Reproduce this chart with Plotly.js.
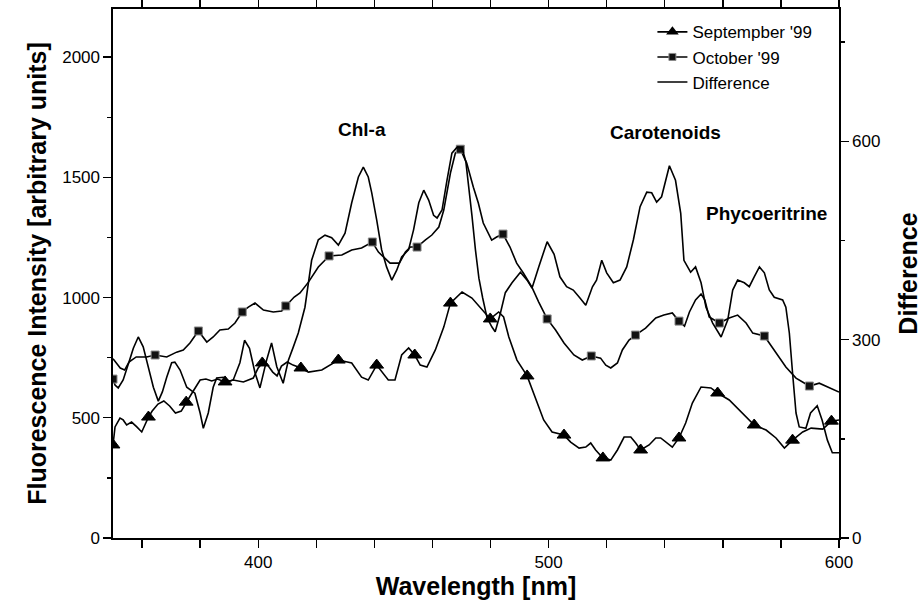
<!DOCTYPE html>
<html>
<head>
<meta charset="utf-8">
<script src="https://cdn.plot.ly/plotly-3.0.1.min.js"></script>
<style>html,body{margin:0;padding:0;background:#fff;}#chart{width:924px;height:602px;}</style>
</head>
<body>
<div id="chart"></div>
<script>
// September '99 (left axis, arbitrary units)
var sepNm = [350,350.7,352.4,353.5,354.7,356.4,358.2,359.9,362.2,363.5,365.5,367.5,369.5,371.5,373.5,375.2,377,378.5,380,382,384,386,388.6,391.4,394.9,398.3,400,401.4,403,405,406.5,408,410,412,414.7,417.3,421.9,427.6,432.2,435.6,437.9,440.8,444.8,447.1,449.4,451.8,453.9,455.8,458.1,461,463.9,466.2,470.2,473.6,477.1,479.9,482.8,484.5,486.3,489.1,492.6,495.4,498.3,501.2,502.4,505.3,507.6,510.5,512.8,514.5,516.2,518.7,521.4,523.7,526,528.3,530,531.7,534.6,536.9,538.6,540.9,542.6,544.9,547.2,549.5,552.5,555.9,558.2,562.2,566.8,570.8,574.9,578.3,581.2,584,587.5,590.4,594.4,597.4,600];
var sepVal = [387,462,499,491,470,482,462,441,503,528,557,570,549,520,528,565,599,628,657,661,653,661,649,657,649,665,707,728,723,690,674,715,732,719,707,690,699,740,728,669,657,719,657,657,761,790,761,719,711,782,877,977,1023,998,948,911,940,919,836,740,674,586,491,441,437,428,399,374,378,395,366,333,324,366,420,420,395,366,387,416,416,395,378,416,478,561,628,624,603,574,520,470,449,416,374,407,441,457,453,486,491];
var sepMarkNm = [350,362.2,375.2,388.6,401.4,414.7,427.6,440.8,453.9,466.2,479.9,492.6,505.3,518.7,531.7,544.9,558.2,570.8,584,597.4];

// October '99 (left axis)
var octNm = [350,350.7,351.8,353.5,355.5,358,361.6,364.5,368.5,371.9,374.2,376.5,379.4,382.3,384.5,386.8,389.7,392,394.5,396.6,398.9,401.8,405.2,408.1,409.5,412.4,414.4,417.3,420.7,424.4,428.8,432.2,435.6,439.3,441.4,443.1,445.4,448.6,450.7,452.4,454.7,457.5,459.8,462.2,463.9,466.2,467.9,469.6,471.8,474.1,475.8,477.5,480.4,482.1,484.3,486.7,489,491.3,494.2,496.6,499.5,502.4,505.3,508.7,511.6,514.7,517.9,519.7,521.4,523.7,525.4,527.7,529.9,533.4,536.9,539.7,542.6,544.9,546.8,548.5,550.6,552.5,553.8,555.3,558.8,562.2,565.1,568,570.3,574.3,578.3,581.7,585.2,589.8,593.2,596.7,600];
var octVal = [661,636,624,657,732,753,753,761,753,773,782,811,861,815,836,865,869,894,940,960,977,948,940,944,965,1002,1019,1064,1127,1173,1177,1198,1206,1231,1189,1168,1143,1143,1189,1210,1210,1239,1260,1293,1364,1518,1601,1617,1559,1459,1393,1310,1239,1252,1264,1210,1143,1102,1044,981,911,865,811,761,740,757,748,719,707,728,782,823,844,873,915,927,936,902,881,940,990,1015,990,919,894,915,927,894,852,840,769,711,665,632,644,624,607];
var octMarkNm = [350,364.5,379.4,394.5,409.5,424.4,439.3,454.7,469.6,484.3,499.5,514.7,529.9,544.9,558.8,574.3,589.8];

// Difference (right axis)
var diffNm = [350,351,352.5,354,355.5,357,358.7,360.4,362.2,363.9,365.6,367,368.5,370.2,371.3,373.1,375.4,378.2,380,381.1,382.8,384.5,385.7,388,390,391.4,393.7,395.3,397,398.9,400.6,402.9,404.6,406.4,408.6,410.4,412.1,413.8,416.1,417.3,418.4,420.7,423,425.3,427.6,429.9,432.2,434.5,436.2,437.9,439.1,440.8,442.5,444.2,446,447.7,449.4,451.8,453.5,455.3,457,458.7,460.4,461.6,463.3,465,466.7,468.5,470.2,471.5,472.5,473.6,474.8,476,477.3,478.8,480.5,481.6,483.4,485.1,487.4,490.3,492.6,494.3,496.6,499.5,501.9,503.9,506.2,508.5,510.8,512.8,515.1,516.5,518.3,520,522.3,524.6,526.9,529.2,531.5,533.8,535.5,537.2,538.9,541.6,543.7,545.5,546.6,547.8,548.9,550.6,552.5,554.2,556.5,559.4,561.7,563.4,565.1,567.4,569.1,570.8,572.6,574.3,576,577.7,580.6,581.7,582.9,584,585.2,586.3,588.6,590.2,592.5,594.2,596,597.7,600];
var diffVal = [271,265,257,254,266,287,304,289,259,228,207,221,243,265,266,254,228,219,189,166,189,228,242,243,237,239,265,299,287,250,227,269,295,259,234,269,289,310,349,390,420,451,458,454,443,461,507,546,561,546,522,481,436,410,390,405,425,436,466,507,526,511,488,484,496,541,582,591,590,569,534,488,436,393,363,333,319,312,340,371,386,402,390,378,410,448,429,395,380,375,363,352,380,390,420,401,386,390,410,451,501,523,522,508,516,563,541,491,420,410,402,410,386,349,325,304,330,375,390,386,380,395,410,401,375,364,360,349,310,250,189,168,166,189,200,178,148,129,129];

var seriesNames = ["Septempber '99", "October '99", "Difference"];
var bandLabels = ["Chl-a", "Carotenoids", "Phycoeritrine"];
var bandNm = [435.6, 540.1, 575.1];
var bandLevel = [1697, 1688, 1351];

function interp(xs, ys, x) {
  for (var i = 0; i < xs.length - 1; i++) {
    if (x >= xs[i] && x <= xs[i + 1]) {
      var t = (x - xs[i]) / (xs[i + 1] - xs[i]);
      return ys[i] + t * (ys[i + 1] - ys[i]);
    }
  }
  return ys[ys.length - 1];
}

var FONT = "Arial, 'Liberation Sans', sans-serif";
var LW = 1.6;
var triStyle = {symbol: 'triangle-up', size: 12, color: '#000', line: {color: '#000', width: 1}};
var sqStyle = {symbol: 'square', size: 8, color: '#111', line: {color: '#8a8a8a', width: 1}};

var traces = [
  {x: sepNm, y: sepVal, mode: 'lines', line: {color: '#000', width: LW}, showlegend: false, hoverinfo: 'skip'},
  {x: sepMarkNm, y: sepMarkNm.map(function (n) { return interp(sepNm, sepVal, n); }), mode: 'markers', marker: triStyle, showlegend: false, hoverinfo: 'skip'},
  {x: octNm, y: octVal, mode: 'lines', line: {color: '#000', width: LW}, showlegend: false, hoverinfo: 'skip'},
  {x: octMarkNm, y: octMarkNm.map(function (n) { return interp(octNm, octVal, n); }), mode: 'markers', marker: sqStyle, showlegend: false, hoverinfo: 'skip'},
  {x: diffNm, y: diffVal, yaxis: 'y2', mode: 'lines', line: {color: '#000', width: LW}, showlegend: false, hoverinfo: 'skip'},
  // legend entries
  {x: [null], y: [null], name: seriesNames[0], mode: 'lines+markers', line: {color: '#000', width: LW}, marker: {symbol: 'triangle-up', size: 11, color: '#000'}, legendgroup: 'a'},
  {x: [null], y: [null], name: seriesNames[1], mode: 'lines+markers', line: {color: '#000', width: LW}, marker: {symbol: 'square', size: 7, color: '#111', line: {color: '#8a8a8a', width: 1}}, legendgroup: 'b'},
  {x: [null], y: [null], name: seriesNames[2], mode: 'lines', line: {color: '#000', width: LW}, legendgroup: 'c'}
];

var annotations = bandLabels.map(function (t, i) {
  return {x: bandNm[i], y: bandLevel[i], xref: 'x', yref: 'y', text: t, showarrow: false,
          font: {family: FONT, size: 19, color: '#000', weight: 700}};
});

var axisCommon = {
  showline: true, linecolor: '#000', linewidth: 1.6, showgrid: false, zeroline: false,
  ticks: 'outside', ticklen: 8, tickwidth: 1.4, tickcolor: '#000',
  tickfont: {family: FONT, size: 17, color: '#000'}
};
var titleFont = {family: FONT, size: 25, color: '#000', weight: 700};

var layout = {
  width: 924, height: 602,
  margin: {l: 113, r: 85, t: 9, b: 64},
  paper_bgcolor: '#fff', plot_bgcolor: '#fff',
  font: {family: FONT, color: '#000'},
  showlegend: true,
  legend: {x: 0.743, y: 0.99, xanchor: 'left', yanchor: 'top', bgcolor: 'rgba(0,0,0,0)',
           font: {family: FONT, size: 17, color: '#000'}, tracegroupgap: 0},
  xaxis: Object.assign({}, axisCommon, {
    range: [350, 600], dtick: 100, tick0: 0, mirror: 'allticks',
    minor: {dtick: 20, tick0: 0, ticks: 'outside', ticklen: 4, tickwidth: 1.4, tickcolor: '#000', showgrid: false},
    title: {text: 'Wavelength [nm]', font: titleFont, standoff: 4}
  }),
  yaxis: Object.assign({}, axisCommon, {
    range: [0, 2200], dtick: 500, tick0: 0,
    minor: {dtick: 250, tick0: 0, ticks: 'outside', ticklen: 4, tickwidth: 1.4, tickcolor: '#000', showgrid: false},
    title: {text: 'Fluorescence Intensity [arbitrary units]', font: titleFont, standoff: 8}
  }),
  yaxis2: Object.assign({}, axisCommon, {
    overlaying: 'y', side: 'right', anchor: 'x',
    range: [0, 800], dtick: 300, tick0: 0,
    minor: {dtick: 150, tick0: 0, ticks: 'outside', ticklen: 4, tickwidth: 1.4, tickcolor: '#000', showgrid: false},
    title: {text: 'Difference', font: titleFont, standoff: 20}
  }),
  annotations: annotations,
  hovermode: false
};

Plotly.newPlot('chart', traces, layout, {displayModeBar: false, staticPlot: true});
</script>
</body>
</html>
